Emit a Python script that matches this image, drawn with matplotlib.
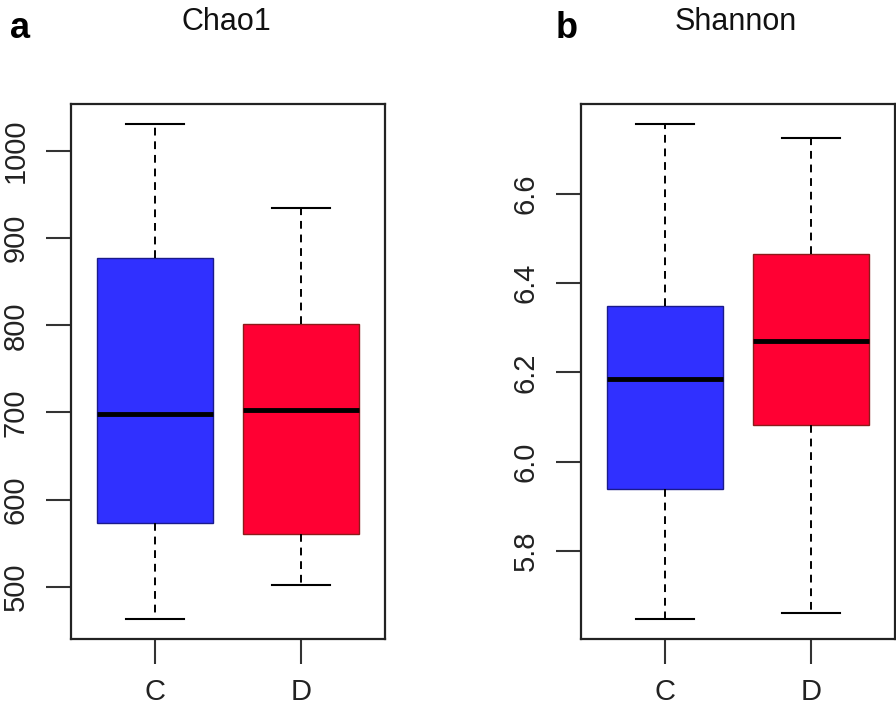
import matplotlib
matplotlib.use("Agg")
from matplotlib import pyplot as plt

groups = ["C", "D"]
box_colors = ["#3030FF", "#FF0033"]
edge_colors = ["#1a1a8c", "#8c1a1a"]

# five-number summaries: (low whisker, q1, median, q3, high whisker)
chao1_C = [463, 573, 698, 877, 1031]
chao1_D = [502, 561, 703, 801, 934]
shannon_C = [5.647, 5.939, 6.186, 6.348, 6.757]
shannon_D = [5.661, 6.081, 6.270, 6.465, 6.726]

chao1_ticks = [500, 600, 700, 800, 900, 1000]
shannon_ticks = [5.8, 6.0, 6.2, 6.4, 6.6]
shannon_ticklabels = ["5.8", "6.0", "6.2", "6.4", "6.6"]

plt.rcParams['font.family'] = ['Liberation Sans', 'DejaVu Sans']

W, H = 896, 707
fig = plt.figure(figsize=(W / 100, H / 100), dpi=100)


def stats_of(vals, label):
	lo, q1, med, q3, hi = vals
	return dict(whislo=lo, q1=q1, med=med, q3=q3, whishi=hi, fliers=[], label=label)


def panel(left_px, summaries, ticks, ticklabels, title, letter, letter_x):
	ax = fig.add_axes([left_px / W, (H - 639) / H, 314 / W, 535 / H])
	stats = [stats_of(s, g) for s, g in zip(summaries, groups)]
	bp = ax.bxp(stats, positions=[1, 2], widths=0.8, patch_artist=True,
				showfliers=False, capwidths=0.4,
				whiskerprops=dict(color="black", linestyle=(0, (4, 3)), linewidth=1.4),
				capprops=dict(color="black", linewidth=1.5),
				medianprops=dict(color="black", linewidth=3.5, solid_capstyle="butt"))
	for patch, fc, ec in zip(bp["boxes"], box_colors, edge_colors):
		patch.set_facecolor(fc)
		patch.set_edgecolor(ec)
		patch.set_linewidth(1.0)
	lo = min(s[0] for s in summaries)
	hi = max(s[4] for s in summaries)
	pad = (hi - lo) * 0.04
	ax.set_ylim(lo - pad, hi + pad)
	ax.set_xlim(0.42, 2.58)
	ax.set_yticks(ticks)
	ax.set_yticklabels(ticklabels, rotation=90, va="center")
	ax.set_xticks([1, 2])
	ax.set_xticklabels(groups)
	ax.tick_params(axis="both", direction="out", length=18, width=1.5,
				   color="#333333", labelsize=21, labelcolor="#222222", pad=12)
	ax.tick_params(axis="x", pad=10)
	for sp in ax.spines.values():
		sp.set_linewidth(1.6)
		sp.set_color("#222222")
	fig.text((left_px + 155) / W, 1 - 22 / H, title, ha="center", va="center",
			 fontsize=22, color="#111111")
	fig.text(letter_x / W, 1 - 29 / H, letter, ha="center", va="center",
			 fontsize=26, fontweight="bold", color="black")
	return ax


panel(71, [chao1_C, chao1_D], chao1_ticks, [str(t) for t in chao1_ticks], "Chao1", "a", 20)
panel(581, [shannon_C, shannon_D], shannon_ticks, shannon_ticklabels, "Shannon", "b", 567)

fig.savefig("out.png", dpi=100)
